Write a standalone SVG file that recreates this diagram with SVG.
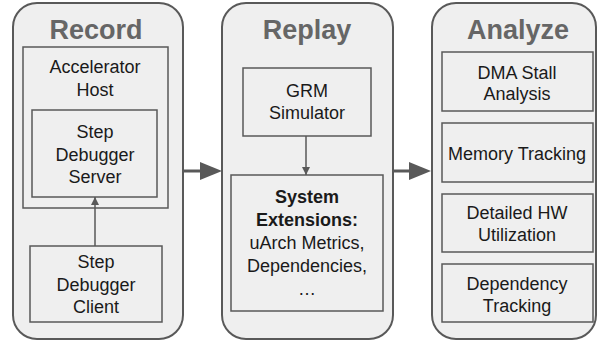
<svg xmlns="http://www.w3.org/2000/svg" width="600" height="341" viewBox="0 0 600 341">
<defs>
<style>
.panel{fill:#efefef;stroke:#595959;stroke-width:2}
.box{fill:#efefef;stroke:#595959;stroke-width:1.5}
.t{font-family:"Liberation Sans",Arial,sans-serif;font-size:18px;fill:#1a1a1a;text-anchor:middle}
.b{font-weight:bold}
.title{font-family:"Liberation Sans",Arial,sans-serif;font-size:27px;font-weight:bold;fill:#666666;text-anchor:middle}
.thin{stroke:#595959;stroke-width:1.5;fill:none}
.thick{stroke:#595959;stroke-width:3;fill:none}
</style>
<marker id="ah" viewBox="0 0 10 10" refX="10" refY="5" markerWidth="8" markerHeight="10" markerUnits="userSpaceOnUse" orient="auto"><path d="M0,0L10,5L0,10z" fill="#595959"/></marker>
</defs>
<g id="record">
<rect class="panel" x="13" y="3" width="170" height="336" rx="24"/>
<text class="title" x="96" y="39">Record</text>
</g>
<g id="accelerator-host">
<rect class="box" x="23" y="47" width="145" height="161"/>
<text class="t" x="95" y="73">Accelerator</text>
<text class="t" x="95" y="96">Host</text>
</g>
<g id="step-debugger-server">
<rect class="box" x="32" y="110" width="125" height="87"/>
<text class="t" x="95" y="138">Step</text>
<text class="t" x="95" y="161">Debugger</text>
<text class="t" x="95" y="183">Server</text>
</g>
<g id="step-debugger-client">
<rect class="box" x="30" y="246" width="132" height="76"/>
<text class="t" x="96" y="268">Step</text>
<text class="t" x="96" y="291">Debugger</text>
<text class="t" x="96" y="313">Client</text>
</g>
<g id="replay">
<rect class="panel" x="222" y="3" width="171" height="336" rx="24"/>
<text class="title" x="307" y="39">Replay</text>
</g>
<g id="grm-simulator">
<rect class="box" x="243" y="68" width="128" height="68"/>
<text class="t" x="307" y="97">GRM</text>
<text class="t" x="307" y="119">Simulator</text>
</g>
<g id="system-extensions">
<rect class="box" x="231" y="175" width="152" height="136"/>
<text class="t b" x="307" y="203">System</text>
<text class="t b" x="307" y="226">Extensions:</text>
<text class="t" x="307" y="249">uArch Metrics,</text>
<text class="t" x="307" y="272">Dependencies,</text>
<text class="t" x="307" y="295">…</text>
</g>
<g id="analyze">
<rect class="panel" x="432" y="3" width="164" height="336" rx="24"/>
<text class="title" x="518" y="39">Analyze</text>
</g>
<g id="dma-stall">
<rect class="box" x="442" y="52" width="151" height="59"/>
<text class="t" x="517" y="79">DMA Stall</text>
<text class="t" x="517" y="100">Analysis</text>
</g>
<g id="memory-tracking">
<rect class="box" x="442" y="123" width="151" height="59"/>
<text class="t" x="517" y="160">Memory Tracking</text>
</g>
<g id="detailed-hw">
<rect class="box" x="442" y="194" width="151" height="58"/>
<text class="t" x="517" y="219">Detailed HW</text>
<text class="t" x="517" y="241">Utilization</text>
</g>
<g id="dependency-tracking">
<rect class="box" x="442" y="264" width="151" height="58"/>
<text class="t" x="517" y="290">Dependency</text>
<text class="t" x="517" y="312">Tracking</text>
</g>
<g id="connectors">
<line class="thin" x1="95" y1="246" x2="95" y2="197" marker-end="url(#ah)"/>
<line class="thin" x1="306" y1="136" x2="306" y2="175" marker-end="url(#ah)"/>
<path d="M183,171H202" class="thick"/>
<path d="M200,162L222,171L200,180z" fill="#595959"/>
<path d="M393,171H411" class="thick"/>
<path d="M409,162L431,171L409,180z" fill="#595959"/>
</g>
</svg>
